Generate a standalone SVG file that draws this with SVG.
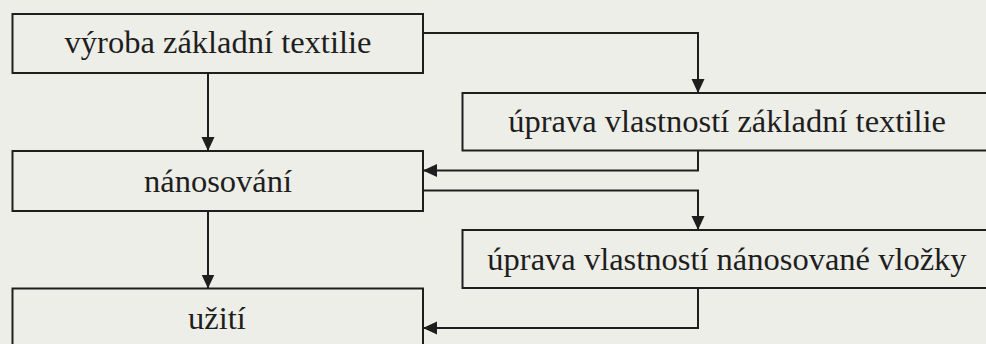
<svg xmlns="http://www.w3.org/2000/svg" width="986" height="344" viewBox="0 0 986 344">
  <style>
    .box { fill: none; stroke: #1e1e1e; stroke-width: 2; }
    .lbl { font-family: 'Liberation Serif', 'DejaVu Serif', serif; font-size: 32.5px; fill: #1e1e1e; text-anchor: middle; }
    .edge { fill: none; stroke: #1e1e1e; stroke-width: 2; marker-end: url(#head); }
  </style>
  <defs>
    <marker id="head" markerUnits="userSpaceOnUse" markerWidth="15" markerHeight="14" refX="14" refY="6.5" orient="auto">
      <path d="M0,0 L14,6.5 L0,13 z" fill="#1e1e1e"/>
    </marker>
  </defs>
  <rect width="986" height="344" fill="#eeeee8"/>

  <g id="vyroba">
    <rect class="box" x="12.5" y="14" width="410.5" height="59"/>
    <text class="lbl" font-family="Liberation Serif, serif" x="218" y="53">výroba základní textilie</text>
  </g>
  <g id="uprava-textilie">
    <rect class="box" x="462.5" y="93" width="540" height="57.5"/>
    <text class="lbl" font-family="Liberation Serif, serif" x="727" y="131.5">úprava vlastností základní textilie</text>
  </g>
  <g id="nanosovani">
    <rect class="box" x="12.5" y="151" width="410.5" height="60"/>
    <text class="lbl" font-family="Liberation Serif, serif" x="218" y="191.5">nánosování</text>
  </g>
  <g id="uprava-vlozky">
    <rect class="box" x="462.5" y="230" width="540" height="58"/>
    <text class="lbl" font-family="Liberation Serif, serif" x="727" y="269.5">úprava vlastností nánosované vložky</text>
  </g>
  <g id="uziti">
    <rect class="box" x="12.5" y="288.5" width="410.5" height="70"/>
    <text class="lbl" font-family="Liberation Serif, serif" x="217" y="329">užití</text>
  </g>

  <g id="connectors">
    <path class="edge" d="M208,73 V151"/>
    <path class="edge" d="M423,33 H698 V93"/>
    <path class="edge" d="M698,150.5 V170.5 H423"/>
    <path class="edge" d="M423,190.5 H698 V230"/>
    <path class="edge" d="M208,211 V288.5"/>
    <path class="edge" d="M698,288 V328 H423"/>
  </g>
</svg>
